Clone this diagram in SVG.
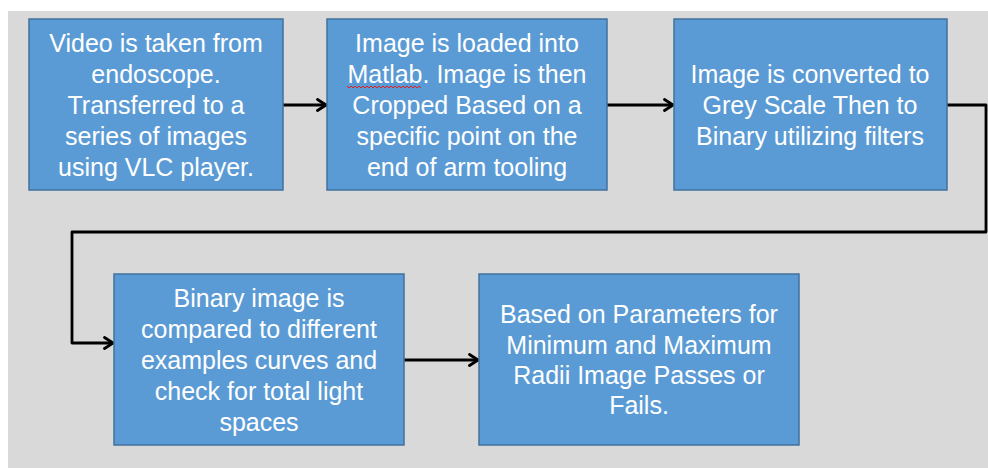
<svg xmlns="http://www.w3.org/2000/svg" width="988" height="468" viewBox="0 0 988 468">
<defs>
<style>
.box{fill:#5b9bd5;stroke:#41719c;stroke-width:1.5}
.t{font-family:"Liberation Sans",Arial,sans-serif;font-size:25px;fill:#ffffff;text-anchor:middle}
.c{fill:none;stroke:#000;stroke-width:2.8;stroke-linejoin:round}
</style>
<marker id="ah" viewBox="0 0 11 14" refX="10" refY="7" markerWidth="11" markerHeight="14" markerUnits="userSpaceOnUse" orient="auto">
<path d="M1.5,1.5 L10,7 L1.5,12.5" fill="none" stroke="#000" stroke-width="2.8" stroke-linecap="round" stroke-linejoin="round"/>
</marker>
</defs>
<rect x="0" y="0" width="988" height="468" fill="#ffffff"/>
<rect x="8" y="11" width="980" height="457" fill="#d9d9d9"/>
<g id="connectors">
<path class="c" d="M283,105 H326" marker-end="url(#ah)"/>
<path class="c" d="M607,105 H673" marker-end="url(#ah)"/>
<path class="c" d="M947,105 H986 V232 H72 V343 H113" marker-end="url(#ah)"/>
<path class="c" d="M404,360 H478" marker-end="url(#ah)"/>
</g>
<g id="n1">
<rect class="box" x="29" y="19" width="254" height="171"/>
<text class="t" x="156" y="52">Video is taken from</text>
<text class="t" x="156" y="83">endoscope.</text>
<text class="t" x="156" y="114">Transferred to a</text>
<text class="t" x="156" y="145">series of images</text>
<text class="t" x="156" y="176">using VLC player.</text>
</g>
<g id="n2">
<rect class="box" x="327" y="19" width="280" height="171"/>
<text class="t" x="467" y="52">Image is loaded into</text>
<text class="t" x="467" y="83">Matlab. Image is then</text>
<path d="M347,86 l2,2 l2,-2 l2,2 l2,-2 l2,2 l2,-2 l2,2 l2,-2 l2,2 l2,-2 l2,2 l2,-2 l2,2 l2,-2 l2,2 l2,-2 l2,2 l2,-2 l2,2 l2,-2 l2,2 l2,-2 l2,2 l2,-2 l2,2 l2,-2 l2,2 l2,-2 l2,2 l2,-2 l2,2 l2,-2 l2,2 l2,-2 l2,2 l2,-2 l2,2" fill="none" stroke="#e02020" stroke-width="1"/>
<text class="t" x="467" y="114">Cropped Based on a</text>
<text class="t" x="467" y="145">specific point on the</text>
<text class="t" x="467" y="176">end of arm tooling</text>
</g>
<g id="n3">
<rect class="box" x="674" y="19" width="273" height="171"/>
<text class="t" x="810" y="83">Image is converted to</text>
<text class="t" x="810" y="114">Grey Scale Then to</text>
<text class="t" x="810" y="145">Binary utilizing filters</text>
</g>
<g id="n4">
<rect class="box" x="114" y="274" width="290" height="171"/>
<text class="t" x="259" y="307">Binary image is</text>
<text class="t" x="259" y="338">compared to different</text>
<text class="t" x="259" y="369">examples curves and</text>
<text class="t" x="259" y="400">check for total light</text>
<text class="t" x="259" y="431">spaces</text>
</g>
<g id="n5">
<rect class="box" x="479" y="274" width="320" height="171"/>
<text class="t" x="639" y="323">Based on Parameters for</text>
<text class="t" x="639" y="354">Minimum and Maximum</text>
<text class="t" x="639" y="384">Radii Image Passes or</text>
<text class="t" x="639" y="414">Fails.</text>
</g>
</svg>
